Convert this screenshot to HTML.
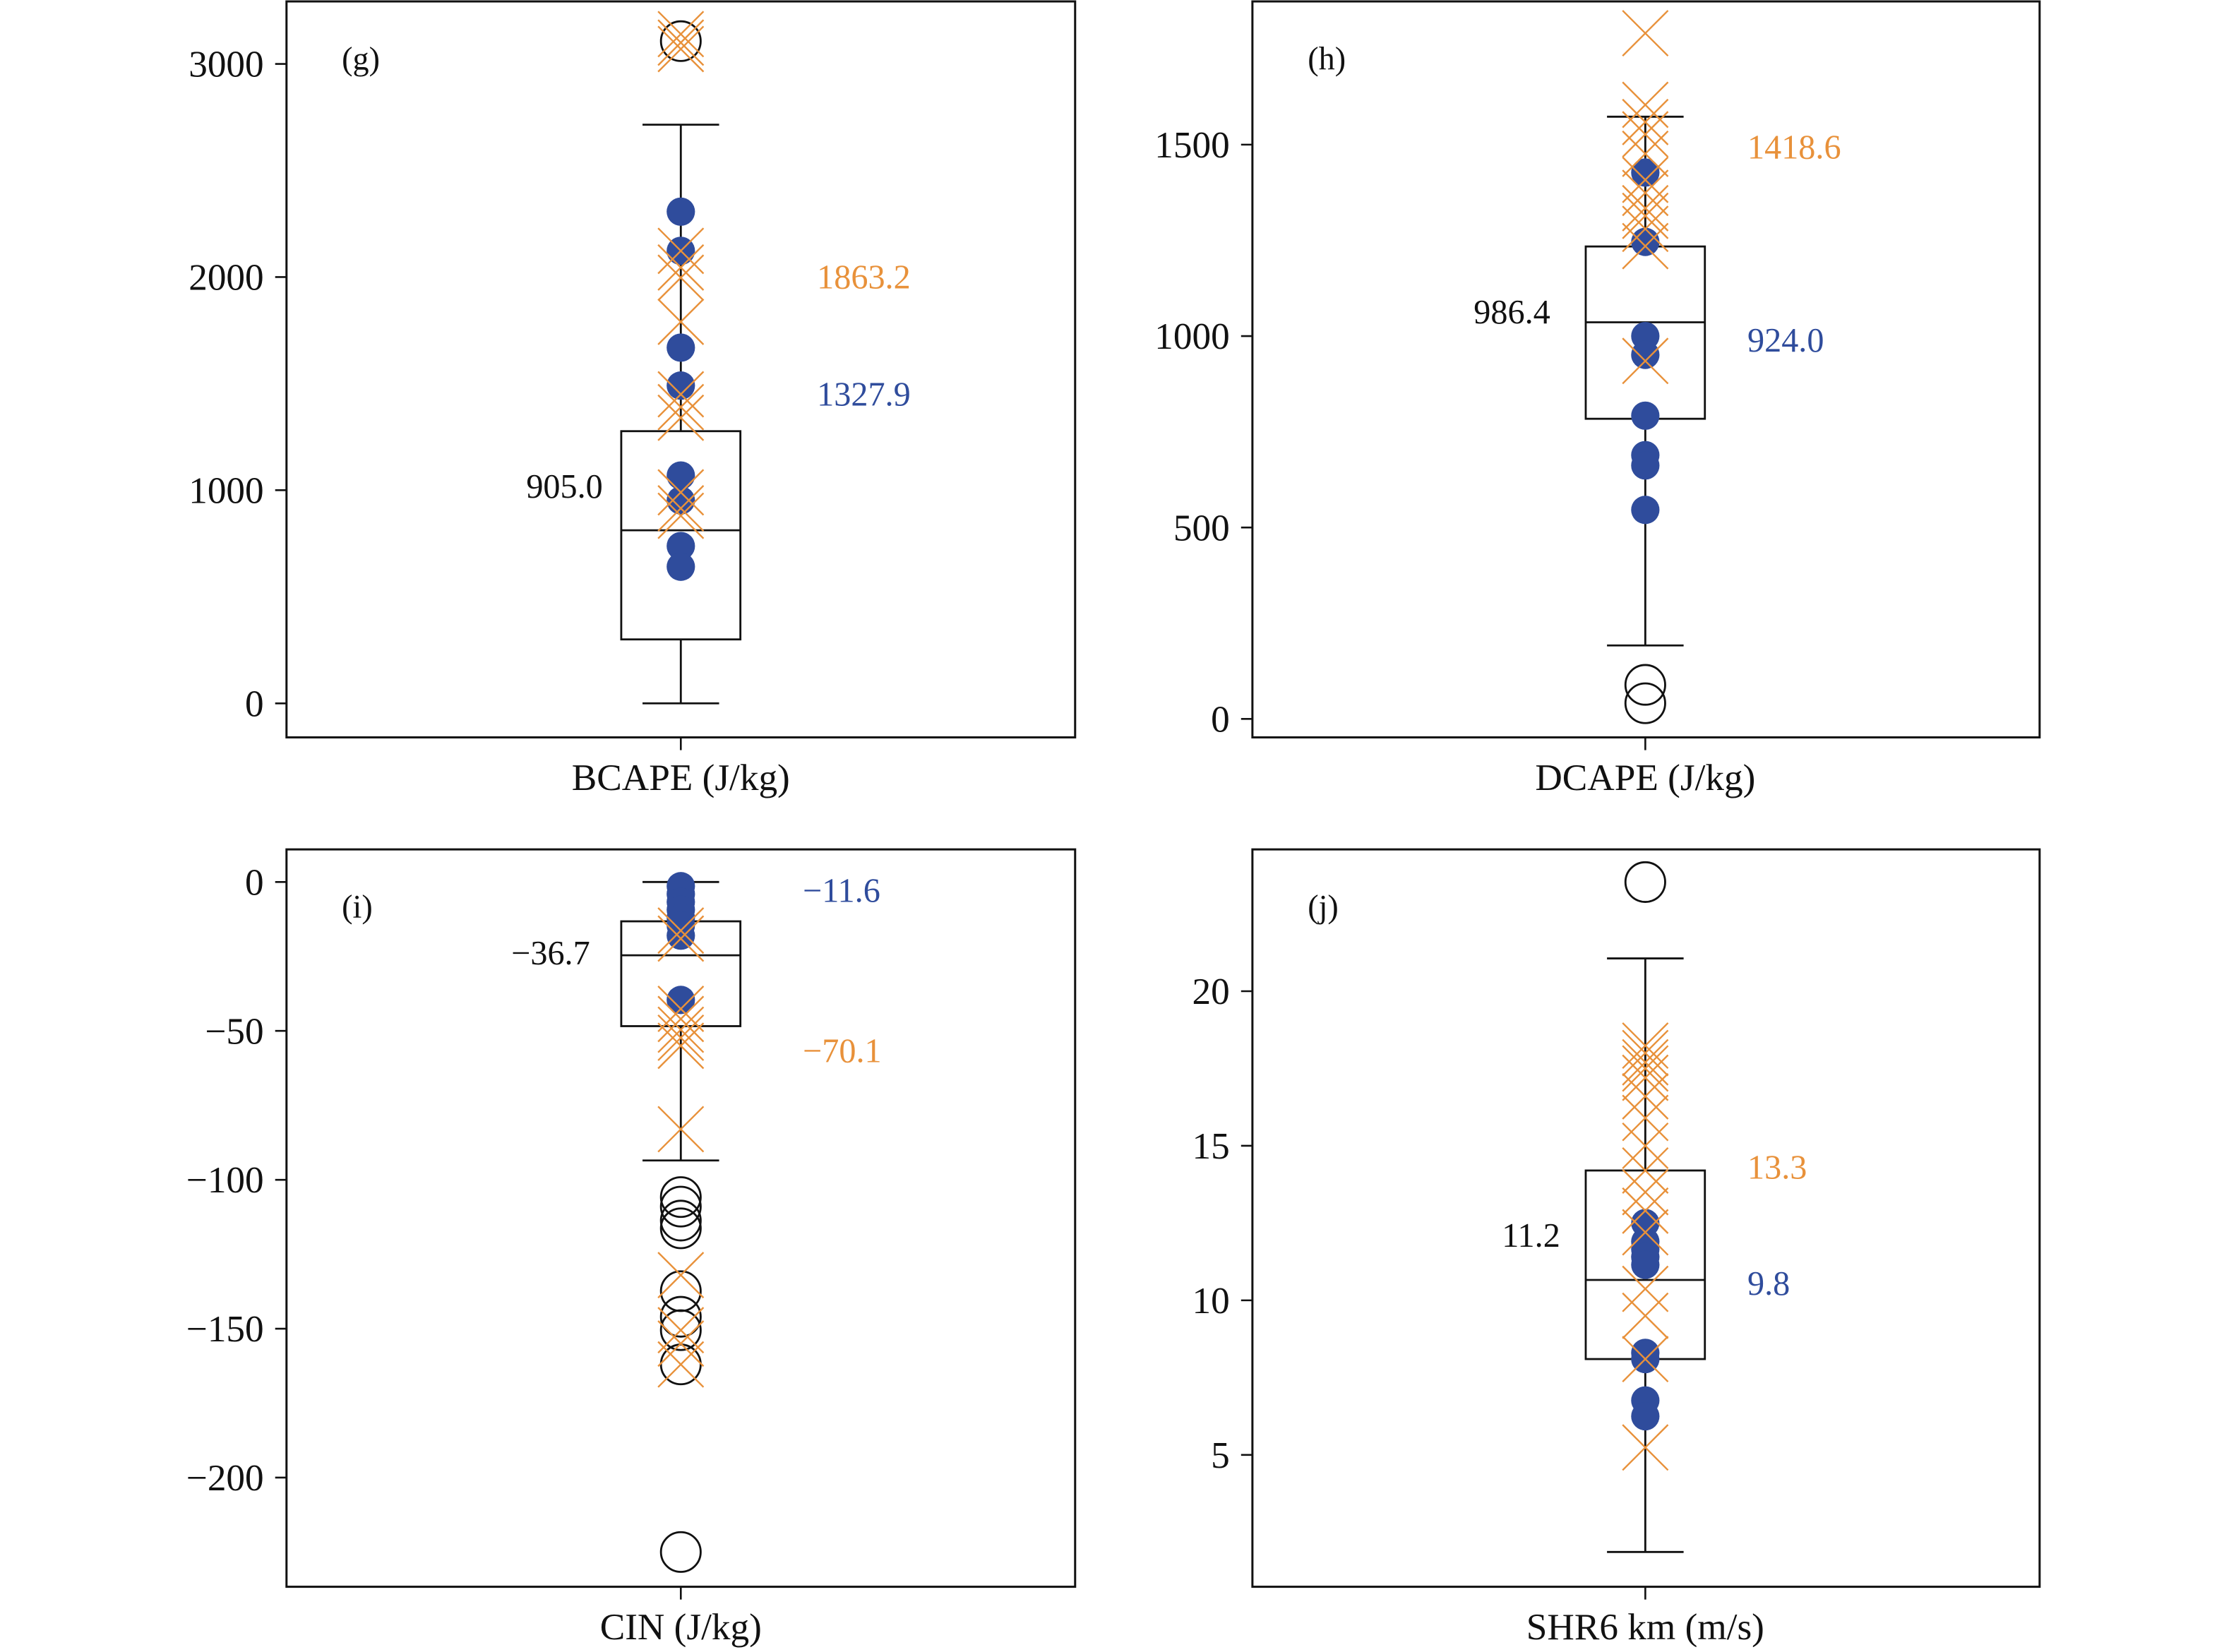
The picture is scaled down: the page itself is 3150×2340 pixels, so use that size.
<!DOCTYPE html>
<html><head><meta charset="utf-8"><style>
html,body{margin:0;padding:0;background:#fff;}
svg{display:block;}
text{font-family:"Liberation Serif",serif;}
</style></head><body>
<svg id="fig" xmlns="http://www.w3.org/2000/svg" width="3150" height="2340" viewBox="0 0 1568 1165" preserveAspectRatio="none"></svg>
<script>
// Panel g: BCAPE
const gTicks = [0, 1000, 2000, 3000];
const gBox = [0, 300, 812, 1277, 2715]; // whiskerLo, q1, median, q3, whiskerHi
const gCircles = [3107];
const gBlue = [2307, 2123, 1669, 1491, 1069, 952, 738, 641];
const gOrange = [3140, 3100, 3070, 2123, 2045, 1997, 1790, 1450, 1390, 1340, 990, 915, 880];
const gLabels = ["905.0", "1863.2", "1327.9"];
const gLabelVals = [1018, 2000, 1450];
// Panel h: DCAPE
const hTicks = [0, 500, 1000, 1500];
const hBox = [192, 784, 1036, 1234, 1573];
const hCircles = [89, 41];
const hBlue = [1427, 1246, 1000, 951, 792, 689, 662, 546];
const hOrange = [1791, 1604, 1559, 1527, 1476, 1408, 1374, 1334, 1314, 1280, 1235, 935];
const hLabels = ["986.4", "1418.6", "924.0"];
const hLabelVals = [1063, 1493, 989];
// Panel i: CIN
const iTicks = [0, -50, -100, -150, -200];
const iBox = [-93.5, -48.4, -24.6, -13.2, 0];
const iCircles = [-105.8, -109, -113.7, -116.3, -137.4, -146, -150.5, -162, -225];
const iBlue = [-1.4, -4, -6.7, -9.3, -12, -14.6, -18, -39.6];
const iOrange = [-16.3, -19, -42.6, -46, -49.6, -52.3, -55, -83, -132, -150.5, -155, -162];
const iLabels = ["\u221236.7", "\u221270.1", "\u221211.6"];
const iLabelVals = [-23.8, -56.7, -2.9];
// Panel j: SHR6
const jTicks = [5, 10, 15, 20];
const jBox = [1.86, 8.1, 10.66, 14.2, 21.06];
const jCircles = [23.53];
const jBlue = [12.5, 11.9, 11.65, 11.4, 11.15, 8.3, 8.1, 6.76, 6.25];
const jOrange = [18.24, 18, 17.7, 17.5, 17.2, 16.6, 15.9, 15.0, 14.2, 13.5, 12.9, 12.2, 10.37, 9.5, 8.1, 5.24];
const jLabels = ["11.2", "13.3", "9.8"];
const jLabelVals = [12.1, 14.3, 10.55];

const NS = "http://www.w3.org/2000/svg";
const svg = document.getElementById("fig");
const ORANGE = "#e8913a", BLUE = "#2f4c9c";
function mk(tag, attrs, parent) {
  const e = document.createElementNS(NS, tag);
  for (const k in attrs) e.setAttribute(k, attrs[k]);
  (parent || svg).appendChild(e);
  return e;
}
function panel(cfg) {
  const g = mk("g", {});
  
  
  const y = v => cfg.y0 + (v - cfg.v0) * cfg.k;
  const cx = cfg.cx;
  const fr = mk("rect", {x: cfg.left, y: cfg.top, width: cfg.right - cfg.left, height: cfg.bottom - cfg.top, fill: "none", stroke: "#111", "stroke-width": 1.5}, g);
  
  
  cfg.ticks.forEach(t => {
    const tl = mk("line", {x1: cfg.left - 8, x2: cfg.left, y1: y(t), y2: y(t), stroke: "#111", "stroke-width": 1.3}, g);
    
    
    const tx = mk("text", {x: cfg.left - 16, y: y(t) + 9, "text-anchor": "end", "font-size": 26.5, fill: "#111"}, g);
    tx.textContent = String(t).replace("-", "\u2212");
    
    
  });
  const xt = mk("line", {x1: cx, x2: cx, y1: cfg.bottom, y2: cfg.bottom + 9, stroke: "#111", "stroke-width": 1.3}, g);
  
  
  const xl = mk("text", {x: cx, y: cfg.bottom + 37, "text-anchor": "middle", "font-size": 26.5, fill: "#111"}, g);
  xl.textContent = cfg.xlabel;
  
  
  const pl = mk("text", {x: cfg.left + 39, y: cfg.top + 48, "font-size": 23, fill: "#111"}, g);
  pl.textContent = cfg.tag;
  
  
  const b = cfg.box, hw = 42, cw = 27;
  const wl = mk("path", {d: `M${cx} ${y(b[0])}V${y(b[1])}M${cx} ${y(b[3])}V${y(b[4])}M${cx-cw} ${y(b[0])}H${cx+cw}M${cx-cw} ${y(b[4])}H${cx+cw}`, stroke: "#111", "stroke-width": 1.4, fill: "none"}, g);
  
  
  const bx = mk("rect", {x: cx - hw, y: Math.min(y(b[1]), y(b[3])), width: 2 * hw, height: Math.abs(y(b[3]) - y(b[1])), fill: "none", stroke: "#111", "stroke-width": 1.4}, g);
  
  
  const md = mk("line", {x1: cx - hw, x2: cx + hw, y1: y(b[2]), y2: y(b[2]), stroke: "#111", "stroke-width": 1.4}, g);
  
  
  cfg.circles.forEach(v => {
    const c = mk("circle", {cx: cx, cy: y(v), r: 14, fill: "none", stroke: "#111", "stroke-width": 1.4}, g);
    
    
  });
  cfg.blue.forEach(v => {
    const c = mk("circle", {cx: cx, cy: y(v), r: 10, fill: BLUE}, g);
    
    
  });
  cfg.orange.forEach(v => {
    const s = 16, yy = y(v);
    const p = mk("path", {d: `M${cx-s} ${yy-s}L${cx+s} ${yy+s}M${cx-s} ${yy+s}L${cx+s} ${yy-s}`, stroke: ORANGE, "stroke-width": 1.2, fill: "none"}, g);
    
    
  });
  const cols = ["#111", ORANGE, BLUE];
  cfg.labels.forEach((t, i) => {
    const left = i === 0;
    const tx = mk("text", {x: left ? cx - cfg.medOff : cx + cfg.lblOff, y: y(cfg.labelVals[i]) + 8, "text-anchor": left ? "end" : "start", "font-size": 24, fill: cols[i]}, g);
    tx.textContent = t;
    
    
  });
}
panel({name: "panel-g-bcape", left: 202, right: 758, top: 1, bottom: 520, cx: 480, y0: 496, v0: 0, k: -0.1503, ticks: gTicks, box: gBox, circles: gCircles, blue: gBlue, orange: gOrange, labels: gLabels, labelVals: gLabelVals, xlabel: "BCAPE (J/kg)", tag: "(g)", lblOff: 96, medOff: 55});
panel({name: "panel-h-dcape", left: 883, right: 1438, top: 1, bottom: 520, cx: 1160, y0: 507, v0: 0, k: -0.27, ticks: hTicks, box: hBox, circles: hCircles, blue: hBlue, orange: hOrange, labels: hLabels, labelVals: hLabelVals, xlabel: "DCAPE (J/kg)", tag: "(h)", lblOff: 72, medOff: 67});
panel({name: "panel-i-cin", left: 202, right: 758, top: 599, bottom: 1119, cx: 480, y0: 622, v0: 0, k: -2.1, ticks: iTicks, box: iBox, circles: iCircles, blue: iBlue, orange: iOrange, labels: iLabels, labelVals: iLabelVals, xlabel: "CIN (J/kg)", tag: "(i)", lblOff: 86, medOff: 64});
panel({name: "panel-j-shr6", left: 883, right: 1438, top: 599, bottom: 1119, cx: 1160, y0: 917, v0: 10, k: -21.8, ticks: jTicks, box: jBox, circles: jCircles, blue: jBlue, orange: jOrange, labels: jLabels, labelVals: jLabelVals, xlabel: "SHR6 km (m/s)", tag: "(j)", lblOff: 72, medOff: 60});
</script>
</body></html>
